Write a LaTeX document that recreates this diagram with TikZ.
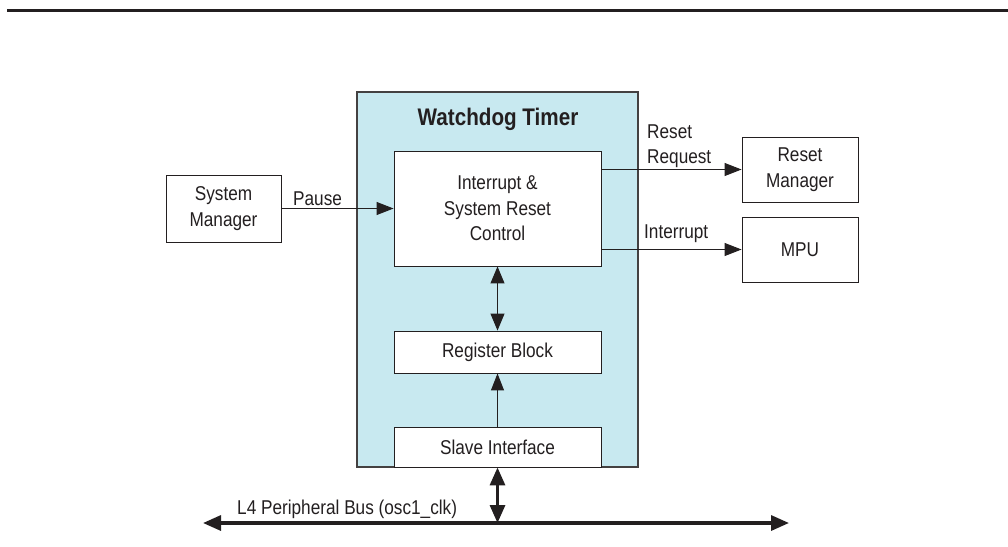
\documentclass[tikz,border=0pt]{standalone}
\usepackage{fontspec}
\setmainfont{Liberation Sans}[FakeStretch=0.86]
\usetikzlibrary{arrows.meta}
\definecolor{wdtblue}{RGB}{200,233,240}
\definecolor{ink}{RGB}{35,31,32}

\begin{document}
\begin{tikzpicture}[x=1pt,y=-1pt,ink,font=\fontsize{20}{25.5}\selectfont,
	blk/.style={draw=ink,line width=.9pt,fill=white,align=center,inner sep=0pt},
	lbl/.style={inner sep=0pt,align=left},
	sig/.style={line width=1pt,-{Triangle[length=17pt,width=13pt]}},
	dsig/.style={line width=1pt,{Triangle[length=17pt,width=14pt]}-{Triangle[length=17pt,width=14pt]}},
	bus/.style={line width=3.2pt,{Triangle[length=18pt,width=15pt]}-{Triangle[length=18pt,width=15pt]}}]
	\useasboundingbox (0,0) rectangle (1008,546);
	
	% header rule
	\draw[line width=3pt] (7,10.5) -- (1008,10.5);
	
	% watchdog
	\node[draw=ink!85,line width=1.2pt,fill=wdtblue,minimum width=281pt,minimum height=375pt,inner sep=0pt] (wdt) at (497.5,279.5) {};
	\node[font=\bfseries\fontsize{24}{28}\selectfont,anchor=base,inner sep=0pt] (wdtlbl) at (498,125) {Watchdog Timer};
	
	\node[blk,minimum width=207pt,minimum height=115pt] (ctrl) at (497.5,208.5) {Interrupt \&\\System Reset\\Control};
	\node[blk,minimum width=207pt,minimum height=42pt] (regblk) at (497.5,352) {Register Block};
	\node[blk,minimum width=207pt,minimum height=40pt] (slave) at (497.5,447) {Slave Interface};
	
	% outside blocks
	\node[blk,minimum width=115pt,minimum height=67pt] (sysmgr) at (223.5,208.5) {System\\Manager};
	\node[blk,minimum width=116pt,minimum height=65pt] (rstmgr) at (800,169.5) {Reset\\Manager};
	\node[blk,minimum width=116pt,minimum height=65pt] (mpu) at (800,249.5) {MPU};
	
	% signals
	\draw[sig] (sysmgr.east) -- (ctrl.west);
	\draw[sig] (ctrl.east |- rstmgr.west) -- (rstmgr.west);
	\draw[sig] (ctrl.east |- mpu.west) -- (mpu.west);
	\draw[dsig] (ctrl.south) -- (regblk.north);
	\draw[sig] (slave.north) -- (regblk.south);
	
	\node[lbl,anchor=base west] (pauselbl) at (293,205) {Pause};
	\node[lbl,anchor=south west] (rstreqlbl) at (647,168) {Reset\\Request};
	\node[lbl,anchor=base west] (irqlbl) at (644,238) {Interrupt};
	
	% bus
	\coordinate (busL) at (203,523);
	\coordinate (busR) at (789,523);
	\draw[bus] (busL) -- (busR);
	\draw[bus] (slave.south) -- (slave.south |- busL);
	\node[lbl,anchor=base west] (buslbl) at (237,514) {L4 Peripheral Bus (osc1\_clk)};
	
\end{tikzpicture}
\end{document}
